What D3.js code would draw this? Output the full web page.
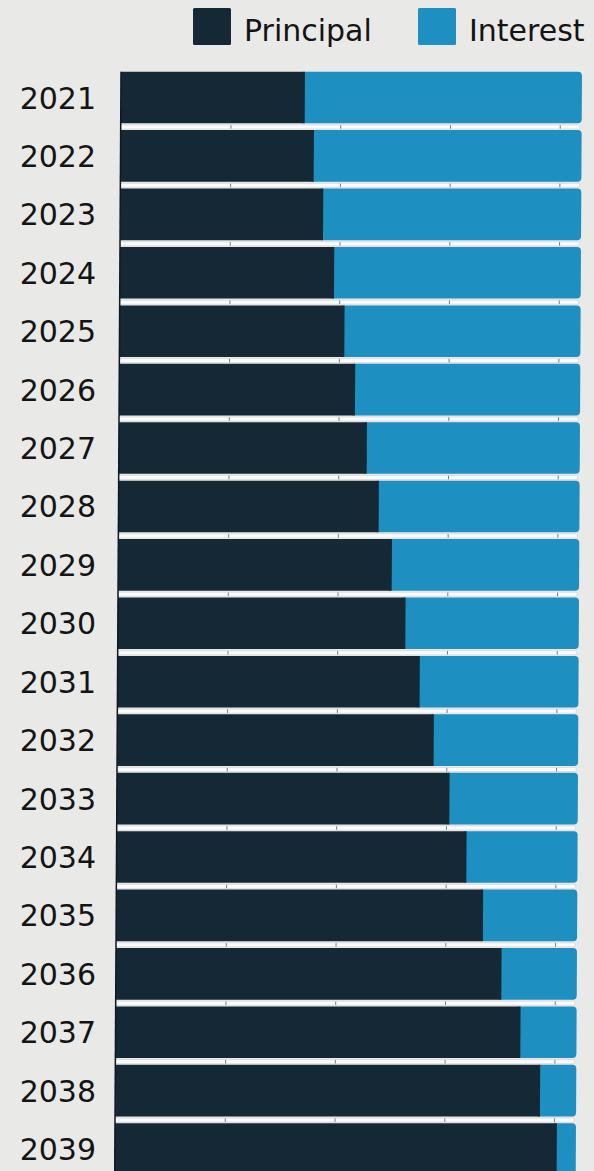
<!DOCTYPE html>
<html>
<head>
<meta charset="utf-8">
<script src="https://cdn.jsdelivr.net/npm/d3@7"></script>
<style>
  html, body { margin: 0; padding: 0; background: #e9e9e8; }
  svg { display: block; }
  text { font-family: "DejaVu Sans", sans-serif; fill: #141414; }
</style>
</head>
<body>
<svg id="chart" width="594" height="1171"></svg>
<script>
// Yearly loan payment split into principal and interest (dollars)
const years = ["2021","2022","2023","2024","2025","2026","2027","2028","2029","2030",
               "2031","2032","2033","2034","2035","2036","2037","2038","2039"];
const principal = [1676,1761,1849,1952,2049,2149,2259,2371,2493,2620,
                   2753,2884,3030,3188,3342,3513,3689,3871,4026];
const interest  = [2524,2439,2351,2248,2151,2051,1941,1829,1707,1580,
                   1447,1316,1170,1012,858,687,511,329,174];
const tickValues = [1000, 2000, 3000, 4000];
const seriesNames = ["Principal", "Interest"];

const colors = { Principal: "#152836", Interest: "#1e8fc1" };

const svg = d3.select("#chart");

const rows = years.map((y, i) => ({ year: y, principal: principal[i], interest: interest[i] }));
const maxTotal = d3.max(rows, d => d.principal + d.interest);

const x = d3.scaleLinear().domain([0, maxTotal]).range([121, 582]);
const y = d3.scaleBand().domain(years).range([71.7, 1174.9]).paddingInner(0.116).paddingOuter(0);

// Legend
const legend = svg.append("g");
const legendX = [193, 418];
seriesNames.forEach((name, i) => {
  const g = legend.append("g").attr("transform", `translate(${legendX[i]},8)`);
  g.append("rect").attr("width", 38).attr("height", 37).attr("rx", 1.5).attr("fill", colors[name]);
  g.append("text").attr("x", 51).attr("y", 33).attr("font-size", 30).text(name);
});

// Year labels
svg.append("g").selectAll("text").data(rows).join("text")
  .attr("x", 96)
  .attr("y", d => y(d.year) + y.bandwidth() / 2 + 11)
  .attr("text-anchor", "end")
  .attr("font-size", 30)
  .text(d => d.year);

// Bars (slightly slanted, as on the printed page)
const plotTop = y.range()[0];
const plot = svg.append("g")
  .attr("transform", `translate(0,${plotTop}) skewX(-0.327) translate(0,${-plotTop})`);

// White separator strips with tick marks between rows
const strips = plot.append("g").selectAll("g").data(rows).join("g")
  .attr("transform", d => `translate(0,${y(d.year) + y.bandwidth() + 1.6})`);
strips.append("rect")
  .attr("x", x(0))
  .attr("width", d => x(d.principal + d.interest) - x(0) - 2)
  .attr("height", 4)
  .attr("fill", "#fbfbfb")
  .attr("stroke", "#d2d2d2")
  .attr("stroke-width", 0.6);
strips.each(function () {
  const ax = d3.axisBottom(x).tickValues(tickValues).tickSize(3.5).tickFormat("");
  const g = d3.select(this).append("g").attr("transform", "translate(0,0.3)").call(ax);
  g.select(".domain").remove();
  g.selectAll(".tick line").attr("stroke", "#6c6c6c").attr("stroke-width", 0.9);
});

// Interest segment (rounded right end), drawn under the principal segment
plot.append("g").selectAll("rect").data(rows).join("rect")
  .attr("x", d => x(d.principal) - 5)
  .attr("y", d => y(d.year))
  .attr("width", d => x(d.principal + d.interest) - x(d.principal) + 5)
  .attr("height", y.bandwidth())
  .attr("rx", 4)
  .attr("fill", colors.Interest);

// Principal segment
plot.append("g").selectAll("rect").data(rows).join("rect")
  .attr("x", x(0))
  .attr("y", d => y(d.year))
  .attr("width", d => x(d.principal) - x(0))
  .attr("height", y.bandwidth())
  .attr("fill", colors.Principal);

// Left axis line
plot.append("line")
  .attr("x1", x(0)).attr("x2", x(0))
  .attr("y1", y.range()[0]).attr("y2", y.range()[1])
  .attr("stroke", "#0d1a22").attr("stroke-width", 1.5);
</script>
</body>
</html>
